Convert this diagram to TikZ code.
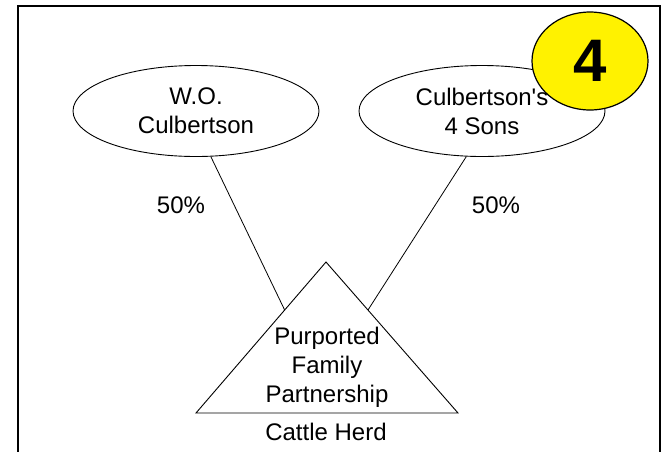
\documentclass[tikz,border=0pt]{standalone}
\usepackage{fontspec}
\setmainfont{Liberation Sans}
\usepackage{tikz}
\usetikzlibrary{shapes,positioning,calc}

\tikzset{
    owner/.style={draw, ellipse, line width=0.9pt, inner sep=0pt,
        minimum width=246pt, minimum height=91pt, align=center,
        font=\fontsize{24}{29}\selectfont},
    share/.style={font=\fontsize{24}{29}\selectfont},
    tag/.style={draw, ellipse, fill=yellow, line width=1.2pt, inner sep=0pt,
        minimum width=116pt, minimum height=98pt,
        font=\bfseries\fontsize{60}{60}\selectfont}
}

\begin{document}
\begin{tikzpicture}[x=1pt,y=-1pt]
        \useasboundingbox (0,0) rectangle (664,451);
        \draw[line width=2.4pt] (18,452) -- (18,6) -- (660,6) -- (660,452);
        % owners
        \node[owner] (wo) at (196,111) {W.O.\\Culbertson};
        \node[owner] (sons) at (482,111) {Culbertson\textquotesingle s\\4 Sons};
        % partnership
        \coordinate (top) at (326,262);
        \coordinate (bl) at (196,413);
        \coordinate (br) at (458,413);
        \draw[line width=0.9pt] (top) -- (bl) -- (br) -- cycle;
        \coordinate (inl) at ($(top)!0.318!(bl)$);
        \coordinate (inr) at ($(top)!0.318!(br)$);
        \node[share, align=center] (fp) at (327,367) {Purported\\Family\\Partnership};
        \node[share] (herd) at (326,432) {Cattle Herd};
        \draw[line width=0.8pt] (wo.-72) -- (inl);
        \draw[line width=0.8pt] (sons.-109) -- (inr);
        \node[share] (p1) at (181,205) {50\%};
        \node[share] (p2) at (496,205) {50\%};
        \node[tag] (num) at (590,61) {4};
    \end{tikzpicture}
\end{document}
